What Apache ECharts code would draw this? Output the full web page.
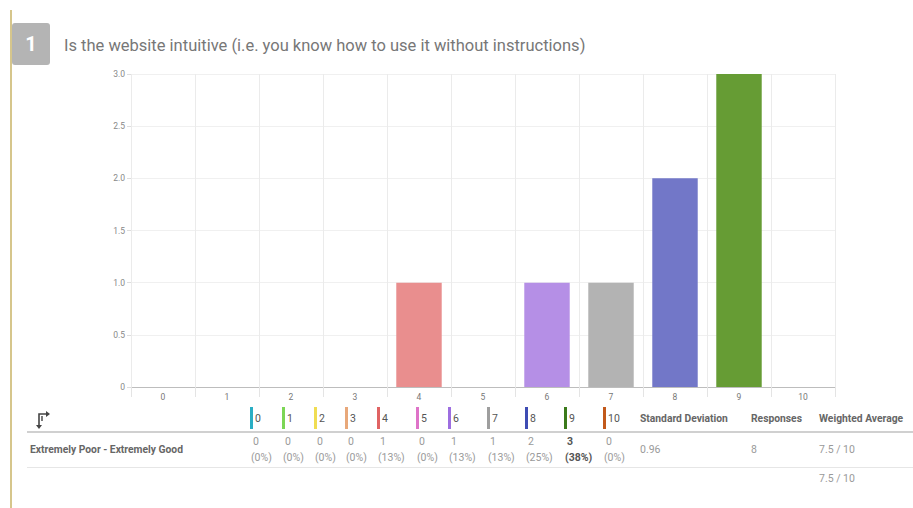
<!DOCTYPE html>
<html><head><meta charset="utf-8">
<script src="https://cdn.jsdelivr.net/npm/echarts@6/dist/echarts.min.js"></script>
<style>html,body{margin:0;padding:0;background:#fff}#c{width:913px;height:508px}</style>
</head><body><div id="c"></div>
<script>
const questionNo = '1';
const questionTitle = 'Is the website intuitive (i.e. you know how to use it without instructions)';
const categories = ['0','1','2','3','4','5','6','7','8','9','10'];
const counts = [0,0,0,0,1,0,1,1,2,3,0];
const percents = ['0%','0%','0%','0%','13%','0%','13%','13%','25%','38%','0%'];
const barColors = ['#7fd0dc','#a9e68c','#f5e88c','#efc39e','#e98e8e','#e9a3db','#b58fe6','#b3b3b3','#7277c8','#669c34','#d78a5a'];
const legendColors = ['#2aaec4','#7cd655','#f0dd52','#e8a87a','#e06363','#de73c8','#9d6ee0','#9e9e9e','#3e4cb3','#3b7a1b','#c2591b'];
const rowLabel = 'Extremely Poor - Extremely Good';
const statHeaders = ['Standard Deviation','Responses','Weighted Average'];
const statValues = ['0.96','8','7.5 / 10'];
const footerAverage = '7.5 / 10';

const font = 'Roboto, "Noto Sans", sans-serif';
const colX = [250,282,314,345,377,416,448,487,525,564,603];
const statX = [640,751,819];
const maxCount = Math.max(...counts);

const chart = echarts.init(document.getElementById('c'), null, {renderer:'svg'});
const g = [];
g.push({type:'rect', shape:{x:10,y:10,width:2,height:498}, style:{fill:'#d6c68c'}, silent:true});
g.push({type:'rect', shape:{x:12,y:23,width:38,height:42,r:3}, style:{fill:'#b4b4b4'}});
g.push({type:'text', x:31, y:44, style:{text:questionNo, fill:'#fff', font:'bold 20px '+font, align:'center', verticalAlign:'middle'}});
g.push({type:'text', x:64, y:45, style:{text:questionTitle, fill:'#777', font:'16.5px '+font, verticalAlign:'middle'}});
// swap icon
g.push({type:'polyline', shape:{points:[[39,426],[39,414],[46,414]]}, style:{stroke:'#444', lineWidth:1.6, fill:null}});
g.push({type:'polygon', shape:{points:[[46,411],[50,414],[46,417]]}, style:{fill:'#444'}});
g.push({type:'polygon', shape:{points:[[36,425],[42,425],[39,429]]}, style:{fill:'#444'}});
g.push({type:'polyline', shape:{points:[[42,421],[42,416]]}, style:{stroke:'#444', lineWidth:1.4}});
categories.forEach((c,i)=>{
  g.push({type:'rect', shape:{x:colX[i],y:407,width:3,height:22}, style:{fill:legendColors[i]}});
  g.push({type:'text', x:colX[i]+5, y:418, style:{text:c, fill:'#555', font:'10.5px '+font, verticalAlign:'middle'}});
  const bold = counts[i]===maxCount;
  g.push({type:'text', x:colX[i]+3, y:441, style:{text:String(counts[i]), fill: bold?'#555':'#9a9a9a', font:(bold?'bold ':'')+'10.5px '+font, verticalAlign:'middle'}});
  g.push({type:'text', x:colX[i]+1, y:457, style:{text:'('+percents[i]+')', fill: bold?'#555':'#9a9a9a', font:(bold?'bold ':'')+'10.5px '+font, verticalAlign:'middle'}});
});
statHeaders.forEach((h,i)=>{
  g.push({type:'text', x:statX[i], y:418, style:{text:h, fill:'#666', font:'bold 10.3px '+font, verticalAlign:'middle'}});
  g.push({type:'text', x:statX[i], y:449, style:{text:statValues[i], fill:'#9a9a9a', font:'10.5px '+font, verticalAlign:'middle'}});
});
g.push({type:'text', x:819, y:478, style:{text:footerAverage, fill:'#9a9a9a', font:'10.5px '+font, verticalAlign:'middle'}});
g.push({type:'text', x:30, y:449, style:{text:rowLabel, fill:'#666', font:'bold 10.3px '+font, verticalAlign:'middle'}});
g.push({type:'rect', shape:{x:27,y:431,width:886,height:2}, style:{fill:'#d0d0d0'}});
g.push({type:'rect', shape:{x:27,y:467,width:886,height:1}, style:{fill:'#e6e6e6'}});

chart.setOption({
  animation:false,
  backgroundColor:'#fff',
  textStyle:{fontFamily:font},
  grid:{left:131,right:78,top:74,bottom:121,containLabel:false},
  xAxis:{type:'category', data:categories,
    axisLine:{lineStyle:{color:'#bdbdbd',width:1}},
    axisTick:{show:true,length:10,lineStyle:{color:'#e4e4e4'}},
    axisLabel:{color:'#777',fontSize:8.5,margin:5},
    splitLine:{show:true,lineStyle:{color:'#ebebeb'}}},
  yAxis:{type:'value', min:0, max:3, interval:0.5,
    axisLine:{show:false},
    axisTick:{show:true,length:4,lineStyle:{color:'#ddd'}},
    axisLabel:{color:'#888',fontSize:8.5,margin:6,formatter:v=>v===0?'0':v.toFixed(1)},
    splitLine:{lineStyle:{color:'#f0f0f0'}}},
  series:[{type:'bar', data:counts.map((v,i)=>({value:v,itemStyle:{color:barColors[i]}})),
    barCategoryGap:'29%'}],
  graphic:g
});
</script></body></html>
